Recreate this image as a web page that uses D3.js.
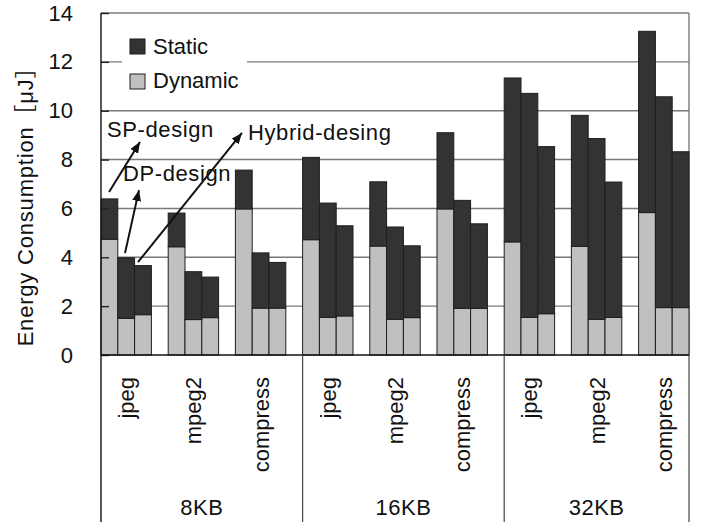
<!DOCTYPE html>
<html>
<head>
<meta charset="utf-8">
<script src="https://cdn.jsdelivr.net/npm/d3@7/dist/d3.min.js"></script>
<style>
  html, body { margin: 0; padding: 0; background: #fff; }
  svg { display: block; }
  text { font-family: "Liberation Sans", Arial, "Noto Sans CJK JP", sans-serif; fill: #111; }
</style>
</head>
<body>
<svg id="chart" width="705" height="522"></svg>
<script>
// Cache sizes, benchmarks and the three memory designs
const sizes = ["8KB", "16KB", "32KB"];
const apps = ["jpeg", "mpeg2", "compress"];
const designs = ["SP", "DP", "Hybrid"];

// Energy per bar (µJ), ordered size → app → design
const dynamicValues = [
  4.74, 1.50, 1.65,   4.43, 1.45, 1.53,   5.98, 1.92, 1.92,
  4.72, 1.54, 1.60,   4.46, 1.46, 1.53,   5.98, 1.91, 1.91,
  4.63, 1.54, 1.69,   4.45, 1.46, 1.54,   5.83, 1.94, 1.94
];
const staticValues = [
  1.65, 2.48, 2.01,   1.38, 1.96, 1.66,   1.59, 2.26, 1.87,
  3.37, 4.68, 3.69,   2.63, 3.78, 2.94,   3.12, 4.42, 3.46,
  6.71, 9.17, 6.84,   5.36, 7.40, 5.54,   7.42, 8.63, 6.38
];

const yTicks = [0, 2, 4, 6, 8, 10, 12, 14];
const yTitle = "Energy Consumption［μJ］";
const seriesNames = ["Static", "Dynamic"];
const seriesColors = { Static: "#333333", Dynamic: "#c0c0c0" };

// Callouts naming the three bars of the first group (x in slot units, y in µJ)
const notes = [
  { label: "SP-design",     tx: 0.36, tv: 8.92, from: [0.48, 6.67], to: [2.32, 8.72] },
  { label: "DP-design",     tx: 1.31, tv: 7.12, from: [1.43, 4.17], to: [2.26, 6.75] },
  { label: "Hybrid-desing", tx: 8.75, tv: 8.80, from: [2.20, 3.80], to: [8.39, 9.09] }
];

// ---- rows ----
const rows = [];
sizes.forEach((s, i) => apps.forEach((a, j) => designs.forEach((d, k) => {
  const idx = i * 9 + j * 3 + k;
  rows.push({ key: `${s}|${a}|${d}`, size: s, app: a, design: d,
              Dynamic: dynamicValues[idx], Static: staticValues[idx] });
})));

// slots: three bars per benchmark followed by an empty slot (none after the last)
const slots = [];
sizes.forEach((s, i) => apps.forEach((a, j) => {
  designs.forEach(d => slots.push(`${s}|${a}|${d}`));
  if (!(i === sizes.length - 1 && j === apps.length - 1)) slots.push(`${s}|${a}|gap`);
}));

const plotLeft = 101, plotRight = 689, plotTop = 13, plotBase = 355, plotBottom = 522;
const svg = d3.select("#chart");

const x = d3.scaleBand().domain(slots).range([plotLeft, plotRight]).padding(0);
const y = d3.scaleLinear().domain([0, 14]).range([plotBase, plotTop]);
const xs = p => plotLeft + p * x.step();

// gridlines
svg.append("g").selectAll("line")
  .data(yTicks.filter(t => t > 0))
  .join("line")
  .attr("x1", plotLeft).attr("x2", plotRight)
  .attr("y1", d => y(d)).attr("y2", d => y(d))
  .attr("stroke", "#7a7a7a").attr("stroke-width", 1.4);

// right border of plot area
svg.append("line").attr("x1", plotRight).attr("x2", plotRight).attr("y1", plotTop).attr("y2", plotBase)
  .attr("stroke", "#7a7a7a").attr("stroke-width", 1.4);

// stacked bars
const stack = d3.stack().keys(["Dynamic", "Static"])(rows);
svg.append("g").selectAll("g")
  .data(stack)
  .join("g")
  .attr("fill", d => seriesColors[d.key])
  .selectAll("rect")
  .data(d => d)
  .join("rect")
  .attr("x", d => x(d.data.key))
  .attr("width", x.bandwidth())
  .attr("y", d => y(d[1]))
  .attr("height", d => y(d[0]) - y(d[1]))
  .attr("stroke", "#1e1e1e").attr("stroke-width", 1);

// y axis
const yAxis = d3.axisLeft(y).tickValues(yTicks).tickSizeInner(-8).tickSizeOuter(0).tickPadding(28);
const ya = svg.append("g").attr("transform", `translate(${plotLeft},0)`).call(yAxis);
ya.select(".domain").remove();
ya.selectAll(".tick line").attr("stroke", "#222").attr("stroke-width", 1.4);
ya.selectAll(".tick text").attr("font-size", 22).attr("fill", "#111")
  .style("font-family", "'Liberation Sans', Arial, sans-serif");

svg.append("line").attr("x1", plotLeft).attr("x2", plotLeft).attr("y1", plotTop).attr("y2", plotBottom)
  .attr("stroke", "#111").attr("stroke-width", 1.4);
svg.append("line").attr("x1", plotLeft).attr("x2", plotRight).attr("y1", plotBase).attr("y2", plotBase)
  .attr("stroke", "#111").attr("stroke-width", 1.4);

// y title
svg.append("text")
  .attr("transform", `translate(33,${(plotTop + plotBase) / 2 + 17}) rotate(-90)`)
  .attr("text-anchor", "middle").attr("font-size", 22).attr("letter-spacing", 0.8)
  .text(yTitle);

// category area: size separators
const sizeStart = s => x(`${s}|jpeg|SP`);
const sizeEnd = (s, i) => i < sizes.length - 1 ? sizeStart(sizes[i + 1]) : plotRight;
svg.append("g").selectAll("line")
  .data(sizes.slice(1).concat(["end"]))
  .join("line")
  .attr("x1", d => d === "end" ? plotRight : sizeStart(d))
  .attr("x2", d => d === "end" ? plotRight : sizeStart(d))
  .attr("y1", plotBase).attr("y2", plotBottom)
  .attr("stroke", "#444").attr("stroke-width", 1.2);

// benchmark labels (vertical)
const appLabels = [];
sizes.forEach(s => apps.forEach(a => appLabels.push({ s, a })));
svg.append("g").selectAll("text")
  .data(appLabels)
  .join("text")
  .attr("transform", d => `translate(${x(`${d.s}|${d.a}|DP`) + x.bandwidth() / 2 + 8},377) rotate(-90)`)
  .attr("text-anchor", "end").attr("font-size", 22)
  .text(d => d.a);

// size labels
svg.append("g").selectAll("text")
  .data(sizes)
  .join("text")
  .attr("x", (d, i) => (sizeStart(d) + sizeEnd(d, i)) / 2)
  .attr("y", 515)
  .attr("text-anchor", "middle").attr("font-size", 22).attr("letter-spacing", 0.5)
  .text(d => d);

// legend
const lg = svg.append("g");
lg.append("rect").attr("x", 122).attr("y", 26).attr("width", 125).attr("height", 74).attr("fill", "#fff");
seriesNames.forEach((n, i) => {
  lg.append("rect").attr("x", 130).attr("y", 39 + i * 35).attr("width", 15).attr("height", 15)
    .attr("fill", seriesColors[n]).attr("stroke", "#1e1e1e").attr("stroke-width", 1);
  lg.append("text").attr("x", 153).attr("y", 54 + i * 34).attr("font-size", 22).text(n);
});

// callouts
svg.append("defs").append("marker")
  .attr("id", "arrow").attr("viewBox", "0 0 11 9").attr("refX", 11).attr("refY", 4.5)
  .attr("markerWidth", 11).attr("markerHeight", 9).attr("markerUnits", "userSpaceOnUse")
  .attr("orient", "auto")
  .append("path").attr("d", "M0,0 L11,4.5 L0,9 Z").attr("fill", "#111");

const ng = svg.append("g");
ng.selectAll("line")
  .data(notes)
  .join("line")
  .attr("x1", d => xs(d.from[0])).attr("y1", d => y(d.from[1]))
  .attr("x2", d => xs(d.to[0])).attr("y2", d => y(d.to[1]))
  .attr("stroke", "#111").attr("stroke-width", 2)
  .attr("marker-end", "url(#arrow)");
ng.selectAll("text")
  .data(notes)
  .join("text")
  .attr("x", d => xs(d.tx)).attr("y", d => y(d.tv))
  .attr("font-size", 22).attr("letter-spacing", 0.6)
  .text(d => d.label);
</script>
</body>
</html>
